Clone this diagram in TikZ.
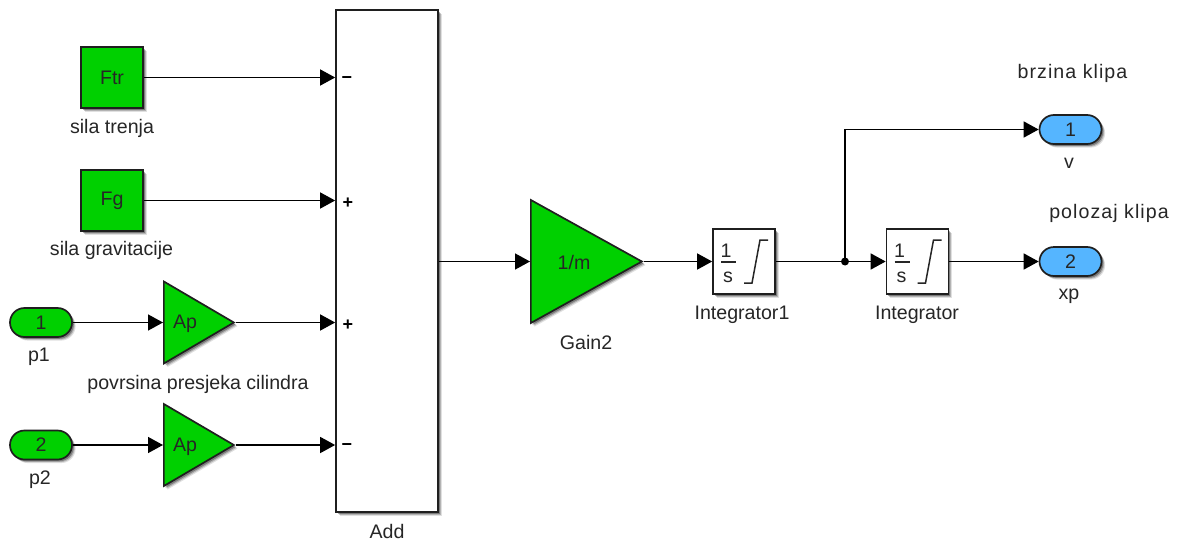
\documentclass[tikz,border=0pt]{standalone}
\usepackage{fontspec}
\setmainfont{Liberation Sans}
\usetikzlibrary{arrows.meta,shapes.geometric,shapes.misc,shadows}
\definecolor{blockgreen}{HTML}{00D000}
\definecolor{portblue}{HTML}{55B5FF}
\definecolor{inktext}{HTML}{262626}
\tikzset{
  softshadow/.style={
    drop shadow={shadow xshift=3.6pt,shadow yshift=-3.6pt,opacity=.12,fill=black},
    drop shadow={shadow xshift=2.7pt,shadow yshift=-2.7pt,opacity=.20,fill=black},
    drop shadow={shadow xshift=1.8pt,shadow yshift=-1.8pt,opacity=.30,fill=black}},
  blockline/.style={draw=black!88,line width=1.7pt,inner sep=0pt,softshadow},
  sq/.style={blockline,fill=blockgreen,minimum width=62pt,minimum height=61pt,text=inktext},
  whitebox/.style={blockline,fill=white,minimum width=62pt,minimum height=65pt},
  port/.style={blockline,rounded rectangle,minimum width=62pt,minimum height=29pt,text=inktext},
  inport/.style={port,fill=blockgreen},
  outport/.style={port,fill=portblue},
  gaintri/.style={blockline,fill=blockgreen,isosceles triangle,isosceles triangle stretches,
    anchor=lower side,minimum width=#1,shape border rotate=0},
  txt/.style={inner sep=0pt,yshift=-1.6pt,text=inktext,font=\fontsize{19.6}{21}\selectfont},
  widetxt/.style={txt,font=\fontsize{19.6}{21}\selectfont\addfontfeatures{LetterSpace=5.4}},
  sign/.style={inner sep=0pt,yshift=-2.5pt,text=black,font=\fontsize{18}{20}\selectfont\bfseries},
  wire/.style={line width=1.5pt,draw=black,-{Triangle[length=15pt,width=16pt]}},
  plainwire/.style={line width=1.5pt,draw=black},
  intcurve/.style={line width=1.5pt,draw=black!85}
}
\begin{document}
\begin{tikzpicture}[x=1pt,y=-1pt,every node/.append style={font=\fontsize{19.6}{21}\selectfont}]
\useasboundingbox (0,0) rectangle (1177,543);
\fill[white] (0,0) rectangle (1177,543);

% blocks
\node[sq] (ftr) at (112,77.5) {Ftr};
\node[sq] (fg) at (112,200.5) {Fg};
\node[inport] (p1) at (41,322.5) {1};
\node[inport] (p2) at (41,445) {2};
\node[gaintri=82pt,minimum height=70pt] (ap1) at (163,322.5) {};
\node[gaintri=82pt,minimum height=70pt] (ap2) at (163,445) {};
\node[blockline,fill=white,minimum width=102pt,minimum height=502pt] (add) at (387,261) {};
\node[gaintri=123pt,minimum height=111pt] (gain) at (530,261.5) {};
\node[whitebox] (int1) at (744,261.5) {};
\node[whitebox] (int2) at (917.5,261.5) {};
\node[outport] (v) at (1070.5,129.5) {1};
\node[outport] (xp) at (1070.5,261.5) {2};
\node[fill=black,circle,inner sep=0pt,minimum size=8pt] (junc) at (845,261.5) {};

% text inside triangles
\node[txt] (ap1t) at (185,322) {Ap};
\node[txt] (ap2t) at (185,445) {Ap};
\node[txt] (gaint) at (574,261) {1/m};

% integrator symbols
\foreach \b/\x in {int1/713,int2/886.5}{
  \node[txt] (\b one) at (\x+13,249) {1};
  \node[txt] (\b s) at (\x+15,276) {s};
  \draw[line width=1.2pt,draw=black!85] (\x+8,262) -- (\x+23,262);
  \draw[intcurve] (\x+31,283) -- (\x+39,283) -- (\x+47,240) -- (\x+55,240);
}

% signs
\node[sign] (s1) at (347,78) {−};
\node[sign] (s2) at (348,201) {+};
\node[sign] (s3) at (348,323) {+};
\node[sign] (s4) at (347,445) {−};

% labels
\node[txt] (l1) at (112,127) {sila trenja};
\node[txt] (l2) at (111.5,249) {sila gravitacije};
\node[txt] (l3) at (39,355) {p1};
\node[txt] (l4) at (40,478) {p2};
\node[txt] (l5) at (198,383) {povrsina presjeka cilindra};
\node[txt] (l6) at (387,530) {Add};
\node[txt] (l7) at (586,341) {Gain2};
\node[txt] (l8) at (742,313) {Integrator1};
\node[txt] (l9) at (917,313) {Integrator};
\node[txt] (l10) at (1069,162) {v};
\node[txt] (l11) at (1069,295) {xp};
\node[widetxt] (l12) at (1072.5,72) {brzina klipa};
\node[widetxt] (l13) at (1109,212) {polozaj klipa};

% connectors
\draw[wire] (ftr.east) -- (ftr.east -| add.west);
\draw[wire] (fg.east) -- (fg.east -| add.west);
\draw[wire] (p1.east) -- (ap1.lower side);
\draw[wire] (p2.east) -- (ap2.lower side);
\draw[wire] (ap1.apex) -- (ap1.apex -| add.west);
\draw[wire] (ap2.apex) -- (ap2.apex -| add.west);
\draw[wire] (add.east |- gain.lower side) -- (gain.lower side);
\draw[wire] (gain.apex) -- (int1.west);
\draw[plainwire] (int1.east) -- (junc.center);
\draw[wire] (junc.center) -- (int2.west);
\draw[wire] (junc.center) |- (v.west);
\draw[wire] (int2.east) -- (xp.west);
\end{tikzpicture}
\end{document}
